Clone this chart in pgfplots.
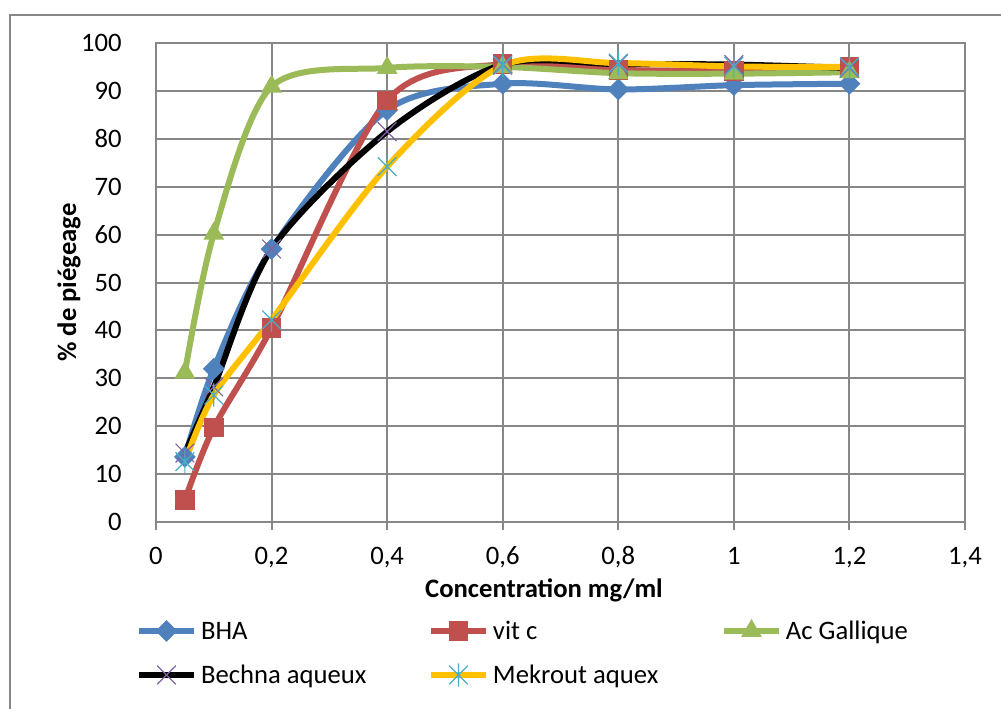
\documentclass[border=0pt]{standalone}
\usepackage{fontspec}
\setmainfont{Carlito}
\usepackage{pgfplots}
\pgfplotsset{compat=1.18}
\definecolor{cBHA}{HTML}{4F81BD}
\definecolor{cVit}{HTML}{C0504D}
\definecolor{cGal}{HTML}{9BBB59}
\definecolor{cPur}{HTML}{8064A2}
\definecolor{cYel}{HTML}{FFC000}
\definecolor{cCya}{HTML}{4BACC6}
\definecolor{gridgray}{HTML}{878787}
\pgfdeclareplotmark{ediamond*}{%
  \pgfpathmoveto{\pgfqpoint{0pt}{\pgfplotmarksize}}%
  \pgfpathlineto{\pgfqpoint{\pgfplotmarksize}{0pt}}%
  \pgfpathlineto{\pgfqpoint{0pt}{-\pgfplotmarksize}}%
  \pgfpathlineto{\pgfqpoint{-\pgfplotmarksize}{0pt}}%
  \pgfpathclose\pgfusepathqfillstroke}
\pgfdeclareplotmark{xstar}{%
  \pgfpathmoveto{\pgfqpoint{-\pgfplotmarksize}{-\pgfplotmarksize}}%
  \pgfpathlineto{\pgfqpoint{\pgfplotmarksize}{\pgfplotmarksize}}%
  \pgfpathmoveto{\pgfqpoint{-\pgfplotmarksize}{\pgfplotmarksize}}%
  \pgfpathlineto{\pgfqpoint{\pgfplotmarksize}{-\pgfplotmarksize}}%
  \pgfpathmoveto{\pgfqpoint{0pt}{-1.25\pgfplotmarksize}}%
  \pgfpathlineto{\pgfqpoint{0pt}{1.25\pgfplotmarksize}}%
  \pgfusepathqstroke}
\pgfdeclareplotmark{bigx}{%
  \pgfpathmoveto{\pgfqpoint{-\pgfplotmarksize}{-\pgfplotmarksize}}%
  \pgfpathlineto{\pgfqpoint{\pgfplotmarksize}{\pgfplotmarksize}}%
  \pgfpathmoveto{\pgfqpoint{-\pgfplotmarksize}{\pgfplotmarksize}}%
  \pgfpathlineto{\pgfqpoint{\pgfplotmarksize}{-\pgfplotmarksize}}%
  \pgfusepathqstroke}
\begin{document}
\fontsize{20}{24}\selectfont
\begin{tikzpicture}
\useasboundingbox (0,0) rectangle (750.75pt,531pt);
\draw[line width=1.1pt, color=gridgray] (7.5pt,-5pt) -- (7.5pt,519.75pt) -- (760pt,519.75pt);
\begin{axis}[
  at={(117pt,139.5pt)}, anchor=south west,
  scale only axis, width=606.75pt, height=359.25pt,
  xmin=0, xmax=1.4, ymin=0, ymax=100,
  xtick={0,0.2,0.4,0.6,0.8,1,1.2,1.4},
  ytick={0,10,20,30,40,50,60,70,80,90,100},
  grid=major,
  major grid style={color=gridgray, line width=1.5pt},
  axis line style={color=gridgray, line width=1.5pt},
  tick pos=left, tick align=outside, major tick length=6pt,
  xtick style={color=gridgray, line width=1.5pt},
  ytick style={draw=none},
  /pgf/number format/use comma,
  /pgf/number format/assume math mode=true,
  xticklabel style={anchor=base, inner sep=0pt, yshift=-26pt},
  yticklabel style={anchor=east, inner sep=0pt, xshift=-19.5pt},
  legend columns=3,
  legend cell align=left,
  legend style={at={(-0.02472,-0.1898)}, anchor=north west, draw=none, fill=none,
    inner sep=0pt, outer sep=0pt, column sep=0pt, row sep=5.9pt,
    nodes={inner sep=0pt, text height=20pt, text depth=7.1pt},
    /tikz/every odd column/.append style={column sep=3pt}},
  legend image code/.code={%
    \draw[mark repeat=2,mark phase=2] plot coordinates {(0pt,0pt) (20.625pt,0pt) (41.25pt,0pt)};},
  every axis plot/.append style={line width=4.5pt, smooth, tension=0.5},
]
\addplot[color=cBHA, mark=ediamond*, mark size=7.5pt, mark options={line width=1pt, fill=cBHA, draw=cBHA}]
  coordinates {(0.05,13.6)(0.1,32)(0.2,57)(0.4,86)(0.6,91.5)(0.8,90.3)(1,91.2)(1.2,91.5)};
\addlegendentry{\makebox[170.25pt][l]{BHA}}
\addplot[color=cVit, mark=square*, mark size=6.8pt, mark options={line width=1pt, fill=cVit, draw=cVit}]
  coordinates {(0.05,4.6)(0.1,19.7)(0.2,40.5)(0.4,88)(0.6,95.6)(0.8,94.4)(1,94.2)(1.2,95)};
\addlegendentry{\makebox[171pt][l]{vit c}}
\addplot[color=cGal, mark=triangle*, mark size=8pt, mark options={line width=1pt, fill=cGal, draw=cGal}]
  coordinates {(0.05,31.2)(0.1,60.2)(0.2,90.9)(0.4,94.8)(0.6,95)(0.8,93.7)(1,93.6)(1.2,93.9)};
\addlegendentry{Ac Gallique}
\addplot[color=black, mark=bigx, mark size=7pt, mark options={line width=0.9pt, draw=cPur}]
  coordinates {(0.05,14.4)(0.1,28.2)(0.2,57)(0.4,81.5)(0.6,95.5)(0.8,95.6)(1,95.5)(1.2,94.8)};
\addlegendentry{Bechna aqueux}
\addplot[color=cYel, mark=xstar, mark size=7pt, mark options={line width=0.9pt, draw=cCya}]
  coordinates {(0.05,12.6)(0.1,26.5)(0.2,42.2)(0.4,74.2)(0.6,95.3)(0.8,95.8)(1,95.1)(1.2,95)};
\addlegendentry{Mekrout aquex}
\end{axis}
\node[rotate=90, anchor=base, font=\bfseries] at (57pt,319.125pt) {\% de piégeage};
\node[anchor=base, font=\bfseries] at (408pt,82.5pt) {Concentration mg/ml};
\end{tikzpicture}
\end{document}
